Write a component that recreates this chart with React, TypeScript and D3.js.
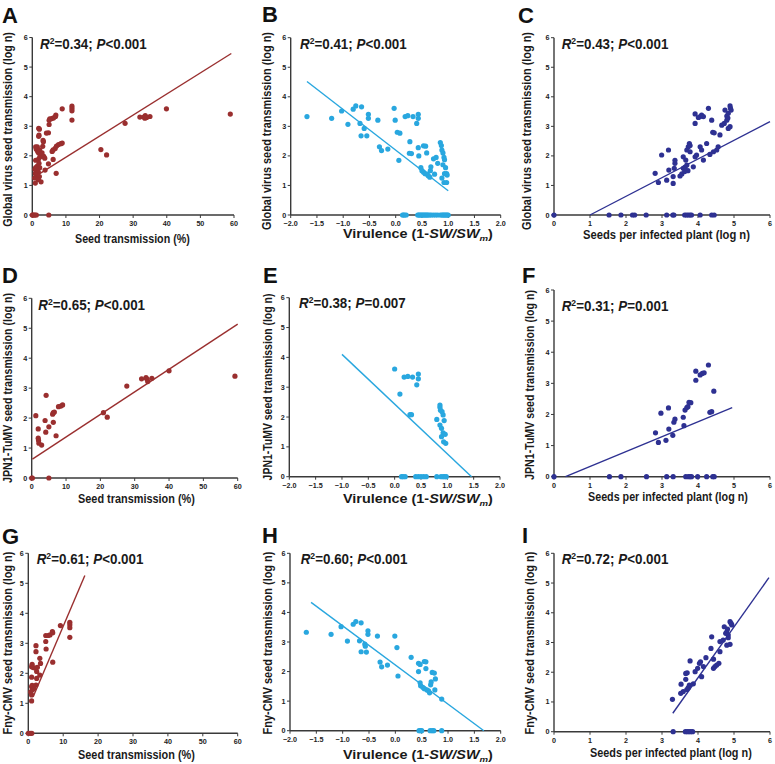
import React, { useLayoutEffect, useRef, useState } from "react";
import * as d3 from "d3";

type P = [number, number];

const FONT = '"Liberation Sans", Arial, Helvetica, sans-serif';

// ---------------- data ----------------
const yTickValues = [0, 1, 2, 3, 4, 5, 6];
const seedTransTicks = [0, 10, 20, 30, 40, 50, 60];
const virulenceTicks = [-2, -1.5, -1, -0.5, 0, 0.5, 1, 1.5, 2];
const seedsTicks = [0, 1, 2, 3, 4, 5, 6];

const panelLetters = ["A", "B", "C", "D", "E", "F", "G", "H", "I"];
const yTitles = [
  "Global virus seed transmission (log n)",
  "JPN1-TuMV seed transmission (log n)",
  "Fny-CMV seed transmission (log n)",
];
const statR2 = ["0.34", "0.41", "0.43", "0.65", "0.38", "0.31", "0.61", "0.60", "0.72"];
const statPop = ["<", "<", "<", "<", "=", "=", "<", "<", "<"];
const statPval = ["0.001", "0.001", "0.001", "0.001", "0.007", "0.001", "0.001", "0.001", "0.001"];

// A: global virus vs seed transmission (%)
const globalSeedTrans: P[] = [
  [0, 0], [0.2, 0], [0.5, 0], [0.8, 0], [1.2, 0], [4.9, 0],
  [58.9, 3.41], [39.9, 3.59], [35, 3.33], [33.6, 3.36], [33.5, 3.27], [33.2, 3.31], [32, 3.31], [34, 3.3],
  [27.6, 3.1], [20.4, 2.21], [22.1, 2.03],
  [11.8, 3.68], [11.8, 3.6], [11.8, 3.52], [11.8, 3.21], [8.9, 3.59],
  [8.9, 2.43], [8.5, 2.41], [7.8, 2.38], [7.2, 2.33], [6.8, 2.25], [6.2, 2.2], [5.9, 2.15], [6.2, 1.88], [7.1, 1.41],
  [7, 3.38], [6.9, 3.33], [6.3, 3.28], [5.8, 3.26], [5.2, 3.25], [5.0, 3.2], [5.0, 3.06], [4.8, 2.78], [4.2, 2.77],
  [4.8, 1.73], [3.8, 1.52],
  [1.9, 2.93], [2.1, 2.9], [2.0, 2.7], [1.9, 2.66], [1.5, 2.3], [1.0, 2.3], [1.2, 2.22], [2.2, 2.2], [1.6, 2.15],
  [1.9, 2.1], [2.5, 2.05], [2.2, 1.95], [1.8, 1.88], [1.0, 1.85], [2.0, 1.75], [1.5, 1.65], [2.2, 1.6], [1.0, 1.6],
  [0.8, 1.55], [1.2, 1.5], [1.8, 1.45], [0.9, 1.4], [1.4, 1.35], [1.1, 1.3], [2.1, 1.3], [0.7, 1.25], [1.8, 1.2],
  [2.6, 1.12], [0.9, 1.08],
  [3.3, 2.48], [3.1, 2.32], [3.4, 1.98], [3.7, 1.92], [3.2, 2.52], [2.9, 2.1],
];

// B: global virus vs virulence
const globalVirulence: P[] = [
  [-1.69, 3.33], [-1.22, 3.27], [-1.03, 3.52], [-0.91, 3.07], [-0.81, 3.58], [-0.76, 3.69], [-0.65, 3.66],
  [-0.68, 3.1], [-0.6, 2.93], [-0.66, 2.68], [-0.55, 2.68], [-0.52, 3.41], [-0.52, 3.27], [-0.34, 3.21],
  [-0.31, 2.31], [-0.27, 2.18], [-0.15, 2.23], [-0.03, 3.61], [-0.01, 3.21], [0.03, 2.8], [0.08, 2.77],
  [0.06, 1.85], [0.18, 3.33], [0.23, 3.36], [0.33, 3.33], [0.4, 3.1], [0.43, 3.41], [0.43, 3.27], [0.27, 2.48],
  [0.26, 2.09], [0.3, 2.08], [0.43, 2.28], [0.44, 2.0], [0.53, 2.34], [0.57, 2.33], [0.48, 1.6], [0.5, 1.5],
  [0.53, 1.45], [0.56, 1.4], [0.6, 1.38], [0.62, 1.33], [0.65, 1.28], [0.59, 2.1], [0.67, 1.63], [0.66, 1.5],
  [0.72, 1.9], [0.77, 1.95], [0.8, 1.75], [0.74, 1.38], [0.85, 2.45], [0.87, 2.35], [0.88, 2.2], [0.9, 2.1],
  [0.92, 1.95], [0.93, 1.87], [0.9, 1.7], [0.95, 1.6], [0.93, 1.4], [0.88, 1.25], [0.92, 1.1], [0.97, 1.1],
  [0.97, 1.4], [0.98, 1.35],
  [0.13, 0], [0.15, 0], [0.17, 0], [0.2, 0], [0.42, 0], [0.44, 0], [0.46, 0], [0.48, 0], [0.5, 0], [0.52, 0],
  [0.54, 0], [0.56, 0], [0.58, 0], [0.6, 0], [0.62, 0], [0.65, 0], [0.68, 0], [0.72, 0], [0.76, 0], [0.8, 0],
  [0.85, 0], [0.88, 0], [0.9, 0], [0.92, 0], [0.94, 0], [0.96, 0], [0.98, 0], [1.0, 0],
];

// C: global virus vs seeds per infected plant
const globalSeeds: P[] = [
  [0, 0], [1.53, 0], [1.86, 0], [2.18, 0], [2.24, 0], [2.56, 0], [3.13, 0], [3.3, 0], [3.33, 0], [3.63, 0],
  [3.68, 0], [3.73, 0], [3.78, 0], [3.82, 0], [4.06, 0], [4.38, 0], [4.45, 0],
  [2.81, 1.41], [2.9, 1.1], [2.99, 2.03], [3.13, 1.18], [3.18, 2.2], [3.19, 1.52], [3.31, 1.3], [3.31, 1.07],
  [3.34, 1.58], [3.36, 1.75], [3.36, 1.85], [3.5, 1.32], [3.55, 1.39], [3.59, 1.58], [3.59, 1.97], [3.63, 1.47],
  [3.64, 1.62], [3.66, 1.86], [3.69, 2.2], [3.73, 2.31], [3.76, 2.42], [3.78, 2.35], [3.78, 2.14], [3.69, 1.69],
  [3.72, 1.5], [3.87, 1.63], [3.92, 1.97], [3.96, 2.03], [3.92, 3.42], [3.92, 3.1], [4.01, 3.3], [4.06, 3.33],
  [4.1, 3.38], [4.15, 3.33], [4.06, 2.31], [4.1, 2.2], [4.15, 1.86], [4.24, 2.42], [4.29, 3.61], [4.38, 3.21],
  [4.41, 2.8], [4.45, 2.78], [4.33, 2.05], [4.43, 2.14], [4.52, 2.2], [4.56, 2.31], [4.61, 2.71], [4.66, 3.04],
  [4.73, 3.1], [4.75, 3.55], [4.8, 3.35], [4.8, 3.21], [4.83, 3.28], [4.84, 3.44], [4.89, 3.69], [4.9, 3.62],
  [4.92, 3.55], [4.84, 2.93], [4.89, 2.99],
];

// D: JPN1-TuMV vs seed transmission (%)
const tumvSeedTrans: P[] = [
  [0, 0], [0.2, 0], [5, 0],
  [1.2, 2.08], [1.9, 1.64], [1.9, 1.33], [2.0, 1.25], [2.1, 1.16], [2.9, 1.1], [3.9, 1.92], [4.2, 2.76],
  [4.1, 1.53], [5.0, 1.71], [6.1, 2.13], [6.3, 2.18], [6.6, 2.2], [6.3, 1.86], [7.1, 1.41], [7.8, 2.38],
  [8.5, 2.4], [9.0, 2.44], [20.9, 2.18], [22.0, 2.03], [27.7, 3.07],
  [32.0, 3.31], [33.3, 3.35], [33.6, 3.3], [33.8, 3.22], [35.0, 3.33], [40.0, 3.58], [59.2, 3.4],
];

// E: JPN1-TuMV vs virulence
const tumvVirulence: P[] = [
  [0.0, 3.61], [0.1, 2.77], [0.18, 3.34], [0.25, 3.36], [0.34, 3.34], [0.45, 3.44], [0.45, 3.28], [0.42, 3.08],
  [0.29, 2.08], [0.32, 2.08], [0.86, 2.4], [0.86, 2.33], [0.87, 2.23], [0.9, 2.18], [0.92, 2.07], [0.94, 1.88],
  [0.8, 1.92], [0.86, 1.73], [0.89, 1.62], [0.92, 1.47], [0.96, 1.42], [0.89, 1.34], [0.93, 1.17], [0.97, 1.12],
  [0.13, 0], [0.16, 0], [0.2, 0], [0.4, 0], [0.45, 0], [0.5, 0], [0.55, 0], [0.6, 0], [0.8, 0], [0.88, 0],
  [0.92, 0], [0.95, 0], [0.98, 0],
];

// F: JPN1-TuMV vs seeds per infected plant
const tumvSeeds: P[] = [
  [0, 0], [1.54, 0], [1.86, 0], [2.57, 0], [3.13, 0], [3.31, 0], [3.66, 0], [3.73, 0], [3.78, 0], [3.82, 0],
  [3.99, 0], [4.24, 0], [4.41, 0], [4.45, 0],
  [2.82, 1.41], [2.9, 1.1], [2.97, 2.04], [3.11, 1.17], [3.18, 2.21], [3.19, 1.53], [3.3, 1.33], [3.33, 1.75],
  [3.36, 1.85], [3.59, 1.91], [3.61, 1.64], [3.64, 2.14], [3.69, 2.22], [3.72, 2.25], [3.75, 2.39], [3.8, 2.38],
  [3.94, 3.39], [3.94, 3.1], [4.06, 3.27], [4.12, 3.32], [4.17, 3.34], [4.29, 3.59], [4.44, 2.75], [4.33, 2.07],
  [4.38, 2.09],
];

// G: Fny-CMV vs seed transmission (%)
const cmvSeedTrans: P[] = [
  [0, 0], [0.5, 0], [1.0, 0],
  [0.95, 1.08], [0.95, 1.28], [0.7, 1.38], [0.95, 1.55], [1.1, 1.6], [0.95, 1.87], [0.95, 2.22], [1.1, 2.3],
  [1.4, 2.19], [1.2, 1.45], [1.6, 1.5], [2.2, 2.92], [2.2, 2.72], [2.1, 2.17], [2.4, 2.06], [2.4, 1.83],
  [2.2, 1.61], [2.6, 2.2], [3.3, 2.5], [3.5, 2.33], [3.3, 1.94], [5.0, 3.26], [5.0, 3.06], [5.1, 2.81],
  [5.7, 3.26], [6.2, 3.28], [6.9, 3.39], [7.0, 3.35], [7.0, 2.37], [9.2, 3.59], [11.9, 3.7], [11.9, 3.62],
  [11.9, 3.52], [11.9, 3.2],
];

// H: Fny-CMV vs virulence
const cmvVirulence: P[] = [
  [-1.69, 3.33], [-1.22, 3.26], [-1.03, 3.52], [-0.91, 3.03], [-0.8, 3.6], [-0.75, 3.69], [-0.65, 3.65],
  [-0.68, 3.04], [-0.58, 2.93], [-0.57, 2.86], [-0.65, 2.67], [-0.55, 2.66], [-0.52, 3.38], [-0.52, 3.26],
  [-0.34, 3.2], [-0.29, 2.32], [-0.26, 2.16], [-0.15, 2.22], [-0.01, 3.2], [0.03, 2.81], [0.05, 1.85],
  [0.3, 2.48], [0.44, 2.28], [0.47, 2.24], [0.44, 2.0], [0.55, 2.34], [0.58, 2.33], [0.58, 2.1], [0.47, 1.62],
  [0.48, 1.52], [0.52, 1.47], [0.55, 1.42], [0.6, 1.38], [0.63, 1.35], [0.65, 1.28], [0.67, 1.55], [0.68, 1.65],
  [0.7, 1.97], [0.74, 1.95], [0.76, 1.75], [0.75, 1.38], [0.88, 1.07],
  [0.45, 0], [0.48, 0], [0.5, 0], [0.66, 0], [0.7, 0], [0.73, 0], [0.88, 0],
];

// I: Fny-CMV vs seeds per infected plant
const cmvSeeds: P[] = [
  [3.31, 0], [3.65, 0], [3.7, 0], [3.75, 0], [3.8, 0], [3.85, 0],
  [3.29, 1.09], [3.53, 1.6], [3.52, 1.29], [3.59, 1.35], [3.66, 1.96], [3.7, 1.98], [3.66, 1.76], [3.69, 1.42],
  [3.73, 1.48], [3.78, 2.38], [3.76, 1.57], [3.87, 1.61], [3.92, 2.02], [3.99, 2.13], [4.04, 2.3], [4.07, 2.35],
  [4.1, 1.85], [4.15, 2.19], [4.22, 2.49], [4.36, 2.8], [4.38, 3.19], [4.43, 2.44], [4.43, 2.13], [4.47, 2.19],
  [4.52, 2.24], [4.58, 2.3], [4.61, 2.69], [4.61, 3.03], [4.7, 3.08], [4.73, 3.53], [4.77, 3.31], [4.8, 3.36],
  [4.82, 3.45], [4.84, 3.25], [4.89, 3.7], [4.92, 3.64], [4.94, 3.59], [4.8, 2.91], [4.89, 2.94], [4.84, 3.16],
];

// regression lines: [x start, y start, x end, y end]
const fitLines: [number, number, number, number][] = [
  [0.8, 1.3, 59.2, 5.46],
  [-1.69, 4.52, 1.0, 0.82],
  [1.0, 0, 6.0, 3.16],
  [0.2, 0.63, 60, 5.14],
  [-1.0, 4.1, 1.46, 0],
  [0.32, 0, 4.95, 2.22],
  [1.4, 1.22, 16.2, 5.26],
  [-1.6, 4.34, 1.68, 0],
  [3.3, 0.62, 5.97, 5.18],
];

const panelPoints = [
  globalSeedTrans, globalVirulence, globalSeeds,
  tumvSeedTrans, tumvVirulence, tumvSeeds,
  cmvSeedTrans, cmvVirulence, cmvSeeds,
];

// ---------------- layout / style ----------------
const COLORS = ["#9a2f2f", "#29a7df", "#2e3192"];
const AXIS = "#3a3a3a";

type Layout = {
  x0: number; x1: number; yTop: number; yBot: number;
  letterX: number; letterY: number;
  statX: number; statY: number;
  ytX: number; ytY: number; ytW: number;
  xtX: number; xtY: number; xtW: number;
};

const layouts: Layout[] = [
  { x0: 32.3, x1: 234, yTop: 37.5, yBot: 215, letterX: 2, letterY: 23, statX: 40, statY: 49, ytX: 11.7, ytY: 129.5, ytW: 195, xtX: 75, xtY: 243, xtW: 115 },
  { x0: 290.7, x1: 500.7, yTop: 37.7, yBot: 215, letterX: 262, letterY: 22, statX: 300, statY: 49, ytX: 270.7, ytY: 131, ytW: 198, xtX: 343, xtY: 238.2, xtW: 150 },
  { x0: 554, x1: 770, yTop: 37.7, yBot: 215, letterX: 518, letterY: 23, statX: 561.7, statY: 49, ytX: 530.7, ytY: 131, ytW: 198, xtX: 583, xtY: 239, xtW: 167 },
  { x0: 31.7, x1: 237.7, yTop: 298.3, yBot: 478, letterX: 2, letterY: 283, statX: 38.3, statY: 310, ytX: 12.3, ytY: 388, ytW: 190, xtX: 78, xtY: 503, xtW: 117 },
  { x0: 289.3, x1: 500, yTop: 297.7, yBot: 476.7, letterX: 263, letterY: 283, statX: 299, statY: 308, ytX: 272.3, ytY: 387, ytW: 187, xtX: 343, xtY: 503, xtW: 150 },
  { x0: 554, x1: 770, yTop: 290, yBot: 476.7, letterX: 522, letterY: 283, statX: 561.7, statY: 311, ytX: 534, ytY: 385, ytW: 190, xtX: 588, xtY: 500.8, xtW: 160 },
  { x0: 28.3, x1: 237.7, yTop: 553.3, yBot: 733.3, letterX: 2, letterY: 544, statX: 36.7, statY: 564.3, ytX: 12.3, ytY: 643, ytW: 183, xtX: 78, xtY: 759, xtW: 117 },
  { x0: 290, x1: 500.7, yTop: 553.3, yBot: 730.7, letterX: 262, letterY: 543, statX: 300.7, statY: 564, ytX: 272.3, ytY: 643, ytW: 183, xtX: 343, xtY: 759, xtW: 150 },
  { x0: 554, x1: 770, yTop: 553.3, yBot: 731.7, letterX: 522, letterY: 543, statX: 561.7, statY: 564, ytX: 534, ytY: 643, ytW: 183, xtX: 590, xtY: 756.5, xtW: 162 },
];

// ---------------- helpers ----------------
function FitText({ width, transform, anchor = "start", fontSize, children }: any) {
  const ref = useRef<SVGTextElement>(null);
  const [s, setS] = useState(1);
  useLayoutEffect(() => {
    if (ref.current) {
      const w = ref.current.getBBox().width;
      if (w > 0) setS(width / w);
    }
  }, [width]);
  return (
    <text
      ref={ref}
      transform={`${transform} scale(${s},1)`}
      textAnchor={anchor}
      fontSize={fontSize}
      fontWeight="bold"
      fontFamily={FONT}
      fill="#1a1a1a"
    >
      {children}
    </text>
  );
}

function XTitle({ col }: { col: number }) {
  if (col === 0) return <>Seed transmission (%)</>;
  if (col === 1)
    return (
      <>
        <tspan>Virulence (1-</tspan>
        <tspan fontStyle="italic">SW/SW</tspan>
        <tspan fontStyle="italic" fontSize={8} dy={3}>m</tspan>
        <tspan dy={-3}>)</tspan>
      </>
    );
  return <>Seeds per infected plant (log n)</>;
}

function Panel({ i }: { i: number }) {
  const L = layouts[i];
  const col = i % 3;
  const row = Math.floor(i / 3);
  const color = COLORS[col];
  const xTicks = col === 0 ? seedTransTicks : col === 1 ? virulenceTicks : seedsTicks;
  const x = d3.scaleLinear().domain([xTicks[0], xTicks[xTicks.length - 1]]).range([L.x0, L.x1]);
  const y = d3.scaleLinear().domain([0, 6]).range([L.yBot, L.yTop]);
  const fmt = col === 1 ? d3.format(".1f") : d3.format("d");
  const pts = panelPoints[i];
  const fl = fitLines[i];
  const line = d3.line<P>().x((d) => x(d[0])).y((d) => y(d[1]));

  return (
    <g>
      <text x={L.letterX} y={L.letterY} fontSize={22} fontWeight="bold" fontFamily={FONT} fill="#111">
        {panelLetters[i]}
      </text>

      <line x1={L.x0} x2={L.x0} y1={y(6)} y2={y(0)} stroke={AXIS} strokeWidth={1.4} />
      <line x1={L.x0} x2={x(xTicks[xTicks.length - 1])} y1={y(0)} y2={y(0)} stroke={AXIS} strokeWidth={1.4} />
      {yTickValues.map((t) => (
        <g key={"y" + t}>
          <line x1={L.x0 - 3} x2={L.x0} y1={y(t)} y2={y(t)} stroke={AXIS} strokeWidth={1} />
          <text x={L.x0 - 4.5} y={y(t)} dy="0.35em" textAnchor="end" fontSize={7.2} fontWeight="bold" fontFamily={FONT} fill="#222">
            {t}
          </text>
        </g>
      ))}
      {xTicks.map((t) => (
        <g key={"x" + t}>
          <line x1={x(t)} x2={x(t)} y1={y(0)} y2={y(0) + 3} stroke={AXIS} strokeWidth={1} />
          <text x={x(t)} y={y(0) + 10.8} textAnchor="middle" fontSize={7.2} fontWeight="bold" fontFamily={FONT} fill="#222">
            {fmt(t)}
          </text>
        </g>
      ))}

      {pts.map((d, k) => (
        <circle key={k} cx={x(d[0])} cy={y(d[1])} r={2.6} fill={color} />
      ))}

      <path d={line([[fl[0], fl[1]], [fl[2], fl[3]]]) || ""} stroke={color} strokeWidth={1.4} fill="none" />

      <FitText width={107} transform={`translate(${L.statX},${L.statY})`} fontSize={14}>
        <tspan fontStyle="italic">R</tspan>
        <tspan fontSize={9} dy={-5}>2</tspan>
        <tspan dy={5}>{"=" + statR2[i] + "; "}</tspan>
        <tspan fontStyle="italic">P</tspan>
        <tspan>{statPop[i] + statPval[i]}</tspan>
      </FitText>

      <FitText width={L.ytW} transform={`translate(${L.ytX},${L.ytY}) rotate(-90)`} anchor="middle" fontSize={12.5}>
        {yTitles[row]}
      </FitText>

      <FitText width={L.xtW} transform={`translate(${L.xtX},${L.xtY})`} fontSize={12}>
        <XTitle col={col} />
      </FitText>
    </g>
  );
}

export default function App() {
  return (
    <svg
      width={775}
      height={764}
      viewBox="0 0 775 764"
      style={{ position: "absolute", left: 0, top: 0, background: "#fff" }}
    >
      <rect width={775} height={764} fill="#fff" />
      {panelLetters.map((_, i) => (
        <Panel key={i} i={i} />
      ))}
    </svg>
  );
}
